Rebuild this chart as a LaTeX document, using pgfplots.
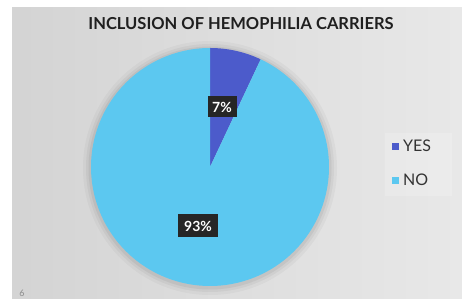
\documentclass[border=0pt]{standalone}
\usepackage{pgfplots}
\usepackage{pgfplotstable}
\pgfplotsset{compat=1.18}
\usepackage{fontspec}
\setmainfont{Lato}
\definecolor{yescol}{HTML}{4C5BCB}
\definecolor{nocol}{HTML}{5CC8F0}
\definecolor{lbl}{HTML}{262626}
\pgfplotstableread{
label value
YES 7
NO 93
}\piedata
\pgfplotstablegetelem{0}{value}\of\piedata \let\yesval\pgfplotsretval
\pgfplotstablegetelem{1}{value}\of\piedata \let\noval\pgfplotsretval
\pgfmathsetmacro{\splitang}{90-3.6*\yesval}
\pgfmathsetmacro{\endang}{\splitang-3.6*\noval}
\begin{document}
\begin{tikzpicture}
\fill[white] (0,0) rectangle (462pt,299pt);
\shade[left color=black!17, right color=black!9] (12pt,0) rectangle (462pt,291pt);
\fill[white, opacity=0.18] (385pt,103pt) rectangle (452pt,166pt);
\foreach \r/\o in {127/0.03,124/0.04,121.5/0.05}{\fill[black,opacity=\o] (210pt,131pt) circle (\r pt);}
\begin{axis}[
  x=1pt, y=1pt, xmin=0, xmax=462, ymin=0, ymax=299,
  hide axis, clip=false, anchor=south west, at={(0,0)},
  legend style={at={(axis cs:390,163)}, anchor=north west, draw=none, fill=none,
     font=\fontsize{16}{16}\selectfont, text=black!80, row sep=17pt, inner sep=2pt,
     nodes={inner xsep=4pt}},
  legend cell align=left,
  legend image code/.code={\fill[#1] (0pt,-3.5pt) rectangle (7pt,3.5pt);},
]
\addplot[fill=yescol, draw=none, domain=\splitang:90, samples=30, variable=\t]
  ({210+119*cos(\t)}, {132+119*sin(\t)}) -- (axis cs:210,132) -- cycle;
\addlegendentry{YES}
\addplot[fill=nocol, draw=none, domain=\endang:\splitang, samples=200, variable=\t]
  ({210+119*cos(\t)}, {132+119*sin(\t)}) -- (axis cs:210,132) -- cycle;
\addlegendentry{NO}
\node[fill=lbl, text=white, font=\fontsize{14}{14}\selectfont\bfseries, inner sep=3pt, minimum width=29pt, minimum height=21pt] at (axis cs:222,192) {\yesval\%};
\node[fill=lbl, text=white, font=\fontsize{14}{14}\selectfont\bfseries, inner sep=3pt, minimum width=40pt, minimum height=23pt] at (axis cs:198,73) {\noval\%};
\node[font=\fontsize{16.5}{16.5}\selectfont\bfseries, text=black!88] at (axis cs:241,275) {INCLUSION OF HEMOPHILIA CARRIERS};
\node[font=\fontsize{9}{9}\selectfont, text=black!45] at (axis cs:22,6) {6};
\end{axis}
\end{tikzpicture}
\end{document}
